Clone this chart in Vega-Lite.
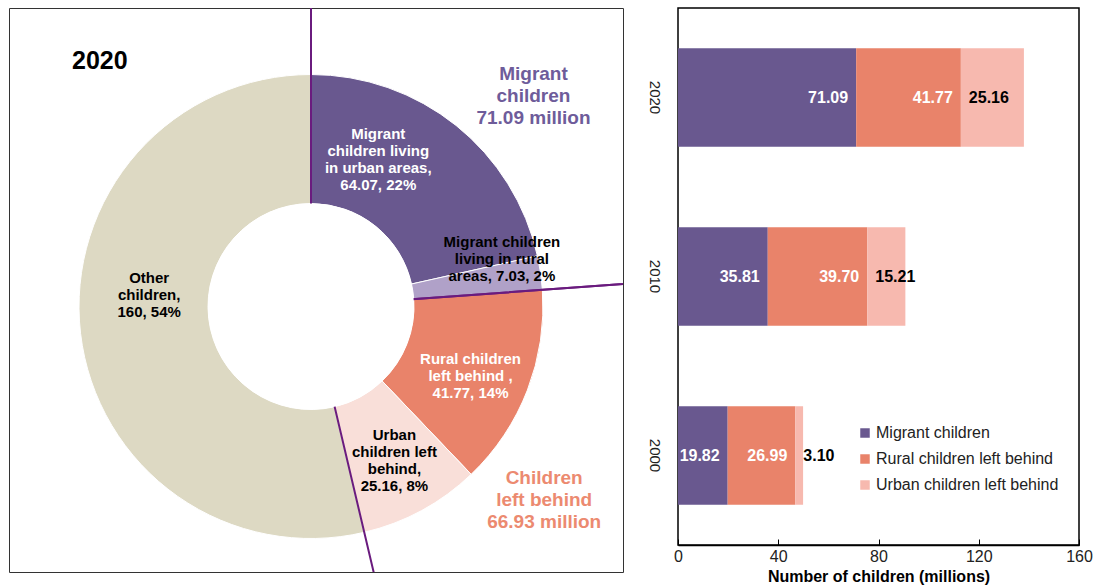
{
  "$schema": "https://vega.github.io/schema/vega-lite/v6.json",
  "padding": {"left": 8, "top": 7, "right": 0, "bottom": 0},
  "background": "white",
  "config": {"font": "Liberation Sans", "view": {"stroke": "#000"}},
  "spacing": 55,
  "bounds": "flush",
  "resolve": {"scale": {"color": "independent", "x": "independent", "y": "independent", "theta": "independent"}, "legend": {"color": "independent"}},
  "datasets": {
    "slices": [
      {"idx": 1, "key": "MU", "value": 64.07, "label": "Migrant\nchildren living\nin urban areas,\n64.07, 22%"},
      {"idx": 2, "key": "MR", "value": 7.03, "label": "Migrant children\nliving in rural\nareas, 7.03, 2%"},
      {"idx": 3, "key": "RLB", "value": 41.77, "label": "Rural children\nleft behind ,\n41.77, 14%"},
      {"idx": 4, "key": "ULB", "value": 25.16, "label": "Urban\nchildren left\nbehind,\n25.16, 8%"},
      {"idx": 5, "key": "Other", "value": 160, "label": "Other\nchildren,\n160, 54%"}
    ],
    "groups": [
      {"idx": 1, "group": "Migrant", "value": 71.1, "label": "Migrant\nchildren\n71.09 million"},
      {"idx": 2, "group": "LB", "value": 66.93, "label": "Children\nleft behind\n66.93 million"}
    ],
    "hole": [{"part": "hole"}],
    "bars": [
      {"year": "2020", "cat": "Migrant children", "order": 1, "value": 71.09},
      {"year": "2020", "cat": "Rural children left behind", "order": 2, "value": 41.77},
      {"year": "2020", "cat": "Urban children left behind", "order": 3, "value": 25.16},
      {"year": "2010", "cat": "Migrant children", "order": 1, "value": 35.81},
      {"year": "2010", "cat": "Rural children left behind", "order": 2, "value": 39.70},
      {"year": "2010", "cat": "Urban children left behind", "order": 3, "value": 15.21},
      {"year": "2000", "cat": "Migrant children", "order": 1, "value": 19.82},
      {"year": "2000", "cat": "Rural children left behind", "order": 2, "value": 26.99},
      {"year": "2000", "cat": "Urban children left behind", "order": 3, "value": 3.10}
    ]
  },
  "hconcat": [
    {
      "width": 614,
      "height": 564,
      "view": {"stroke": "#333", "strokeWidth": 1},
      "title": {"text": "2020", "anchor": "start", "frame": "group", "offset": -86, "dx": 63, "fontSize": 25, "fontWeight": "bold", "baseline": "alphabetic", "color": "#000"},
      "layer": [
        {
          "data": {"name": "slices"},
          "mark": {"type": "arc", "innerRadius": 103, "outerRadius": 232, "stroke": "#fff", "strokeWidth": 1, "x": 302, "y": 298.5},
          "encoding": {
            "theta": {"field": "value", "type": "quantitative", "stack": true},
            "order": {"field": "idx"},
            "color": {"field": "key", "type": "nominal", "scale": {"domain": ["MU", "MR", "RLB", "ULB", "Other"], "range": ["#69588F", "#B0A1C8", "#E9836A", "#F9DFD9", "#DDD9C3"]}, "legend": null}
          }
        },
        {
          "data": {"name": "groups"},
          "mark": {"type": "arc", "innerRadius": 0, "outerRadius": 460, "fill": "transparent", "stroke": "#6A1B7E", "strokeWidth": 2, "clip": true, "x": 302, "y": 298.5},
          "encoding": {
            "theta": {"field": "value", "type": "quantitative", "stack": true},
            "order": {"field": "idx"}
          }
        },
        {
          "data": {"name": "hole"},
          "mark": {"type": "arc", "innerRadius": 0, "outerRadius": 103, "theta": 0, "theta2": 6.2832, "fill": "#fff", "x": 302, "y": 298.5},
          "encoding": {}
        },
        {
          "data": {"name": "slices"},
          "mark": {"type": "text", "radius": 171, "dy": -9, "x": 302, "y": 298.5, "fontSize": 15, "fontWeight": "bold", "lineBreak": "\n", "lineHeight": 17, "align": "center", "baseline": "middle", "color": "#fff"},
          "encoding": {
            "theta": {"field": "value", "type": "quantitative", "stack": true},
            "order": {"field": "idx"},
            "detail": {"field": "key"},
            "text": {"condition": {"test": "datum.key == 'RLB'", "field": "label"}, "value": ""}
          }
        },
        {
          "data": {"name": "slices"},
          "mark": {"type": "text", "radius": 171, "dx": 8, "dy": -48, "x": 302, "y": 298.5, "fontSize": 15, "fontWeight": "bold", "lineBreak": "\n", "lineHeight": 17, "align": "center", "baseline": "middle", "color": "#000"},
          "encoding": {
            "theta": {"field": "value", "type": "quantitative", "stack": true},
            "order": {"field": "idx"},
            "detail": {"field": "key"},
            "text": {"condition": {"test": "datum.key == 'Other'", "field": "label"}, "value": ""}
          }
        },
        {
          "data": {"name": "slices"},
          "mark": {"type": "text", "radius": 175, "dy": -25, "x": 302, "y": 298.5, "fontSize": 15, "fontWeight": "bold", "lineBreak": "\n", "lineHeight": 17, "align": "center", "baseline": "middle", "color": "#000"},
          "encoding": {
            "theta": {"field": "value", "type": "quantitative", "stack": true},
            "order": {"field": "idx"},
            "detail": {"field": "key"},
            "text": {"condition": {"test": "datum.key == 'ULB'", "field": "label"}, "value": ""}
          }
        },
        {
          "data": {"name": "slices"},
          "mark": {"type": "text", "radius": 162, "dx": -34, "dy": -46, "x": 302, "y": 298.5, "fontSize": 15, "fontWeight": "bold", "lineBreak": "\n", "lineHeight": 17, "align": "center", "baseline": "middle", "color": "#fff"},
          "encoding": {
            "theta": {"field": "value", "type": "quantitative", "stack": true},
            "order": {"field": "idx"},
            "detail": {"field": "key"},
            "text": {"condition": {"test": "datum.key == 'MU'", "field": "label"}, "value": ""}
          }
        },
        {
          "data": {"name": "slices"},
          "mark": {"type": "text", "radius": 197, "dx": -4, "dy": -36, "x": 302, "y": 298.5, "fontSize": 15, "fontWeight": "bold", "lineBreak": "\n", "lineHeight": 17, "align": "center", "baseline": "middle", "color": "#000"},
          "encoding": {
            "theta": {"field": "value", "type": "quantitative", "stack": true},
            "order": {"field": "idx"},
            "detail": {"field": "key"},
            "text": {"condition": {"test": "datum.key == 'MR'", "field": "label"}, "value": ""}
          }
        },
        {
          "data": {"name": "groups"},
          "mark": {"type": "text", "radius": 306, "dx": 14, "dy": -8, "x": 302, "y": 298.5, "fontSize": 19, "fontWeight": "bold", "lineBreak": "\n", "lineHeight": 22, "align": "center", "baseline": "middle", "color": "#6E5C9A"},
          "encoding": {
            "theta": {"field": "value", "type": "quantitative", "stack": true},
            "order": {"field": "idx"},
            "detail": {"field": "group"},
            "text": {"condition": {"test": "datum.group == 'Migrant'", "field": "label"}, "value": ""}
          }
        },
        {
          "data": {"name": "groups"},
          "mark": {"type": "text", "radius": 303, "dx": -11, "dy": -8, "x": 302, "y": 298.5, "fontSize": 19, "fontWeight": "bold", "lineBreak": "\n", "lineHeight": 22, "align": "center", "baseline": "middle", "color": "#EC8A70"},
          "encoding": {
            "theta": {"field": "value", "type": "quantitative", "stack": true},
            "order": {"field": "idx"},
            "detail": {"field": "group"},
            "text": {"condition": {"test": "datum.group == 'LB'", "field": "label"}, "value": ""}
          }
        }
      ]
    },
    {
      "width": 401,
      "height": 537,
      "view": {"stroke": "#000", "strokeWidth": 1.5},
      "data": {"name": "bars"},
      "encoding": {
        "y": {"field": "year", "type": "nominal", "sort": ["2020", "2010", "2000"], "scale": {"paddingInner": 0.45, "paddingOuter": 0.225},
          "axis": {"title": null, "labelAngle": 90, "labelAlign": "center", "labelBaseline": "top", "labelPadding": 17, "labelFontSize": 15, "ticks": false, "domain": false, "labelColor": "#222"}}
      },
      "layer": [
        {
          "mark": {"type": "bar"},
          "encoding": {
            "x": {"field": "value", "type": "quantitative", "stack": "zero", "scale": {"domain": [0, 160]},
              "axis": {"values": [0, 40, 80, 120, 160], "grid": false, "tickSize": -6, "tickColor": "#000", "labelPadding": 9, "labelFontSize": 16, "labelColor": "#222", "labelFlush": false, "labelOverlap": false, "domainColor": "#000", "domainWidth": 1.5, "title": "Number of children (millions)", "titleFontSize": 16, "titleFontWeight": "bold", "titlePadding": 4, "titleColor": "#000"}},
            "color": {"field": "cat", "type": "nominal",
              "scale": {"domain": ["Migrant children", "Rural children left behind", "Urban children left behind"], "range": ["#69588F", "#E9836A", "#F7B9AF"]},
              "legend": {"title": null, "orient": "none", "legendX": 179, "legendY": 417, "symbolType": "square", "symbolSize": 90, "symbolStrokeWidth": 0, "labelFontSize": 16, "labelColor": "#222", "labelOffset": 3, "labelLimit": 400, "rowPadding": 10}},
            "order": {"field": "order"}
          }
        },
        {
          "transform": [
            {"stack": "value", "groupby": ["year"], "sort": [{"field": "order", "order": "ascending"}], "as": ["x0", "x1"]},
            {"filter": "datum.order < 3"}
          ],
          "mark": {"type": "text", "align": "right", "dx": -8, "color": "#fff", "fontSize": 16, "fontWeight": "bold", "baseline": "middle"},
          "encoding": {
            "x": {"field": "x1", "type": "quantitative", "title": "Number of children (millions)"},
            "text": {"field": "value", "type": "quantitative", "format": ".2f"}
          }
        },
        {
          "transform": [
            {"stack": "value", "groupby": ["year"], "sort": [{"field": "order", "order": "ascending"}], "as": ["x0", "x1"]},
            {"filter": "datum.order == 3"}
          ],
          "mark": {"type": "text", "align": "left", "dx": 8, "color": "#000", "fontSize": 16, "fontWeight": "bold", "baseline": "middle"},
          "encoding": {
            "x": {"field": "x0", "type": "quantitative", "title": "Number of children (millions)"},
            "text": {"field": "value", "type": "quantitative", "format": ".2f"}
          }
        }
      ]
    }
  ]
}
